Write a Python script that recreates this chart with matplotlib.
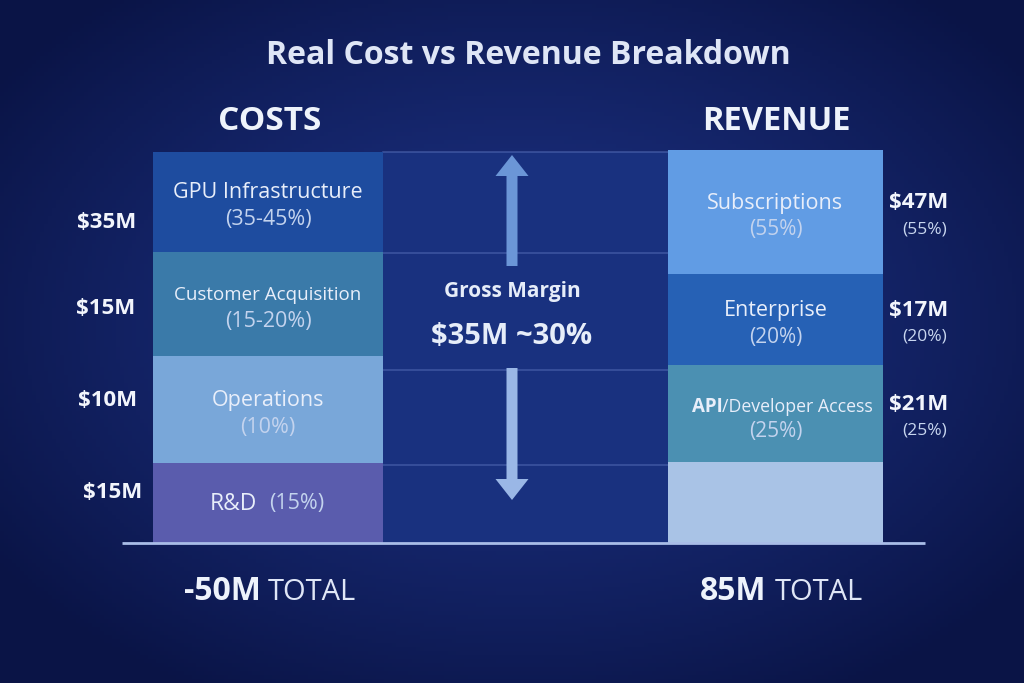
import numpy as np
import matplotlib
matplotlib.use("Agg")
import matplotlib.pyplot as plt
from matplotlib.colors import to_rgb

plt.rcParams['font.family'] = ['Open Sans', 'DejaVu Sans']

# ---------------- data ----------------
title = "Real Cost vs Revenue Breakdown"
cost_labels = ["R&D", "Operations", "Customer Acquisition", "GPU Infrastructure"]   # bottom -> top
cost_values = [15, 10, 15, 35]                      # $M
cost_shares = ["(15%)", "(10%)", "(15-20%)", "(35-45%)"]
cost_segment_heights = [80, 107, 104, 100]          # drawn segment heights (display units)
cost_colors = ["#5a5cad", "#79a7d9", "#3a7aa9", "#1e4c9f"]

rev_labels = ["", "API/Developer Access", "Enterprise", "Subscriptions"]          # bottom -> top
rev_values = [None, 21, 17, 47]                     # $M
rev_shares = [None, "(25%)", "(20%)", "(55%)"]
rev_segment_heights = [81, 97, 91, 124]
rev_colors = ["#a9c3e6", "#4b90b2", "#2661b5", "#619ce4"]

cost_total = "-50M"
rev_total = "85M"
margin_label = "Gross Margin"
margin_value = "$35M ~30%"
margin_grid = [78, 173, 290, 391]                   # grid lines in the middle panel

# ---------------- layout ----------------
W, H = 1024, 683
base = 140                     # baseline (display units above bottom)
cost_x, cost_w = 268, 230
rev_x, rev_w = 775.5, 215
mid_x, mid_w = 525.5, 285
left_label_pos = [(113, 191), (108, 282), (106, 374), (107, 461)]

TXT = "#e8eefa"
SUB = "#c3d3ee"

fig = plt.figure(figsize=(W / 100, H / 100), dpi=100)
ax = fig.add_axes([0, 0, 1, 1])
ax.set_xlim(0, W)
ax.set_ylim(0, H)
ax.axis("off")

# background radial gradient
xx, yy = np.meshgrid(np.linspace(0, W, 256), np.linspace(0, H, 171))
d = np.sqrt(((xx - 520) / 640) ** 2 + ((yy - 360) / 430) ** 2)
d = np.clip(d, 0, 1) ** 1.3
c_in, c_out = np.array(to_rgb("#1c3183")), np.array(to_rgb("#0a1446"))
img = c_in[None, None, :] * (1 - d[..., None]) + c_out[None, None, :] * d[..., None]
ax.imshow(img, extent=[0, W, 0, H], origin="lower", aspect="auto", zorder=0)

# middle panel
mid_h = sum(cost_segment_heights)
ax.bar(mid_x, mid_h, bottom=base, width=mid_w, color="#19317f", zorder=1, align="center")
for g in margin_grid:
    ax.plot([mid_x - mid_w / 2, mid_x + mid_w / 2], [base + g, base + g],
            color="#4b63ad", lw=1.1, alpha=0.75, zorder=1.5)

# cost bar
bottoms = base + np.concatenate([[0], np.cumsum(cost_segment_heights)[:-1]])
ax.bar([cost_x] * 4, cost_segment_heights, bottom=bottoms, width=cost_w,
       color=cost_colors, zorder=2)
for i, (lab, v, s, b, h) in enumerate(zip(cost_labels, cost_values, cost_shares,
                                            bottoms, cost_segment_heights)):
    mid = b + h / 2
    if lab == "R&D":
        ax.text(cost_x - 11, mid - 0.5, lab, ha="right", va="center", color=TXT,
                fontsize=16.5, zorder=4)
        ax.text(cost_x + 1, mid - 0.5, s, ha="left", va="center", color=SUB,
                fontsize=15.5, zorder=4)
    else:
        fs = 13.5 if len(lab) > 18 else 15.5
        ax.text(cost_x, mid + 9, lab, ha="center", va="center", color=TXT,
                fontsize=fs, zorder=4)
        ax.text(cost_x, mid - 18, s, ha="center", va="center", color=SUB,
                fontsize=15.5, zorder=4)
    lx, ly = left_label_pos[i]
    ax.text(lx, ly, f"${v}M", ha="center", va="center",
            color="#f2f5fc", fontsize=16, fontweight="bold", zorder=4)

# revenue bar
rbottoms = base + np.concatenate([[0], np.cumsum(rev_segment_heights)[:-1]])
ax.bar([rev_x] * 4, rev_segment_heights, bottom=rbottoms, width=rev_w,
       color=rev_colors, zorder=2)
for lab, v, s, b, h in zip(rev_labels, rev_values, rev_shares, rbottoms, rev_segment_heights):
    if not lab:
        continue
    mid = b + h / 2
    if "/" in lab:
        head, tail = lab.split("/", 1)
        ax.text(rev_x - 53, mid + 7, head, ha="right", va="center", color=TXT,
                fontsize=13.5, fontweight="bold", zorder=4)
        ax.text(rev_x - 53, mid + 7, "/" + tail, ha="left", va="center", color=TXT,
                fontsize=12.8, zorder=4)
    else:
        ax.text(rev_x, mid + 9, lab, ha="center", va="center", color=TXT,
                fontsize=15.5, zorder=4)
    ax.text(rev_x, mid - 18, s, ha="center", va="center", color=SUB,
            fontsize=15, zorder=4)
    ax.text(919, mid + 9, f"${v}M", ha="center", va="center", color="#f2f5fc",
            fontsize=16, fontweight="bold", zorder=4)
    ax.text(925, mid - 17, s, ha="center", va="center", color="#c8d6ef",
            fontsize=12.5, zorder=4)

# baseline
ax.plot([122, 925], [base, base], color="#a9bde8", lw=2, zorder=3, solid_capstyle="butt")

# gross margin arrows and text
ax.arrow(mid_x - 13.5, 417, 0, 111, width=11, head_width=33, head_length=21,
         length_includes_head=True, color="#6b96d7", lw=0, zorder=3)
ax.arrow(mid_x - 13.5, 315, 0, -132, width=11, head_width=33, head_length=21,
         length_includes_head=True, color="#9ab7e6", lw=0, zorder=3)
ax.text(mid_x - 13.5, 391, margin_label, ha="center", va="center", color="#e6edf9",
        fontsize=15, fontweight="bold", zorder=4)
ax.text(mid_x - 13.5, 346, margin_value, ha="center", va="center", color="#e6edf9",
        fontsize=21, fontweight="bold", zorder=4)

# headings
ax.text(528, 627, title, ha="center", va="center", color="#dfe6f6",
        fontsize=23, fontweight="bold", zorder=4)
ax.text(270, 561, "COSTS", ha="center", va="center", color="#eef3fb",
        fontsize=24, fontweight="bold", zorder=4)
ax.text(776, 561, "REVENUE", ha="center", va="center", color="#eef3fb",
        fontsize=23.5, fontweight="bold", zorder=4)

# totals
ax.text(261, 91, cost_total, ha="right", va="center", color="#eef3fb",
        fontsize=23, fontweight="bold", zorder=4)
ax.text(268, 91, "TOTAL", ha="left", va="center", color="#dfe6f6",
        fontsize=21, zorder=4)
ax.text(766, 91, rev_total, ha="right", va="center", color="#eef3fb",
        fontsize=23, fontweight="bold", zorder=4)
ax.text(775, 91, "TOTAL", ha="left", va="center", color="#dfe6f6",
        fontsize=21, zorder=4)

fig.savefig("out.png", dpi=100)
